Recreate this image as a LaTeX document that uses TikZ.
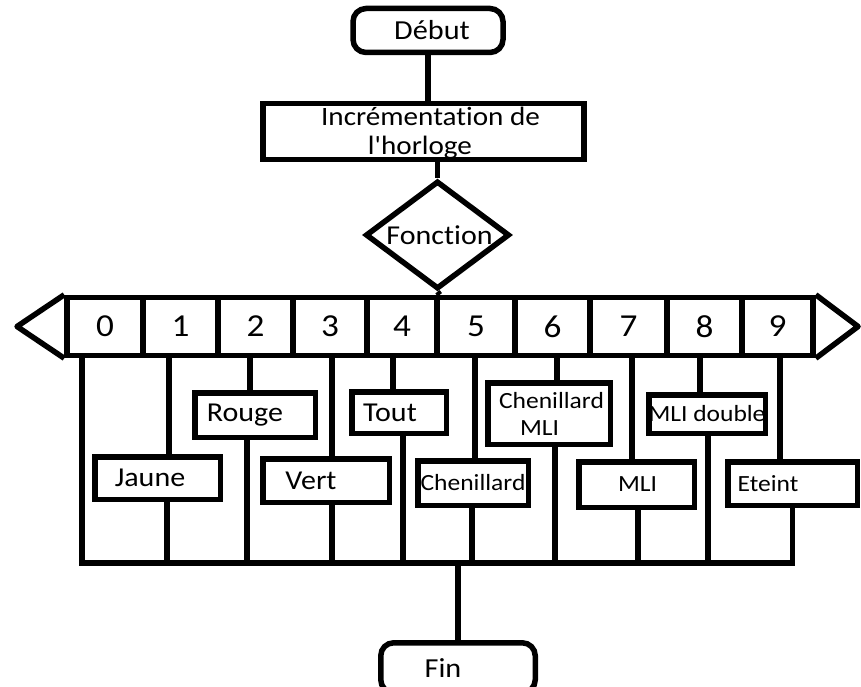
\documentclass[tikz,border=0pt]{standalone}
\usepackage{fontspec}
\setmainfont{Carlito}[FakeStretch=1.1, Ligatures={TeXOff,NoCommon}]
\usetikzlibrary{shapes.geometric}

% centre the text on a zero-width box, moved sideways by #1 pt
\newcommand\nudge[2]{\makebox[0pt]{\hspace*{#1pt}\hspace*{#1pt}#2}}

\begin{document}
\begin{tikzpicture}[x=1pt,y=-1pt,
  every node/.style={inner sep=0pt},
  wire/.style={line width=5.5pt},
  terminal/.style={draw, line width=5.5pt, rounded corners=13pt,
    font=\fontsize{27.5}{30}\selectfont},
  procbox/.style={draw, line width=5.5pt,
    font=\fontsize{26.5}{32}\selectfont},
  decision/.style={draw, line width=5.5pt, diamond,
    font=\fontsize{27.3}{30}\selectfont},
  cell/.style={draw, line width=5.5pt, minimum height=58pt,
    font=\fontsize{32}{36}\selectfont},
  modebox/.style={draw, line width=5.5pt, font=\fontsize{27.3}{29}\selectfont},
  smallbox/.style={modebox, font=\fontsize{23.2}{27}\selectfont},
]
\useasboundingbox (0,0) rectangle (861,687);

% start, clock step and the selector
\node[terminal, minimum width=150pt, minimum height=44pt] (debut) at (428,30.5) {\nudge{4}{Début}};
\node[procbox, minimum width=321pt, minimum height=56pt] (incr) at (423.5,131.5)
  {\raisebox{-8pt}[0pt][0pt]{\begin{tabular}{@{}c@{}}
     \hspace*{14pt}Incrémentation de\\[-3pt]\hspace*{-7pt}l'horloge\end{tabular}}};
\node[decision, minimum width=144pt, minimum height=108pt] (fn) at (437.5,235) {\nudge{2}{Fonction}};

% the ten-way selector bar
\foreach \i/\a/\b in {0/67/143, 1/143/218, 2/218/293, 3/293/367, 4/367/437,
                      5/437/515, 6/515/590, 7/590/667, 8/667/742, 9/742/813}
  \node[cell, minimum width={\b-\a}] (c\i) at ({(\a+\b)/2},326.5) {\i};
\coordinate (ltip) at (17,326.5);
\coordinate (rtip) at (858,326.5);
\draw[wire, line join=round] (c0.north west) -- (ltip) -- (c0.south west);
\draw[wire, line join=round] (c9.north east) -- (rtip) -- (c9.south east);

% one box per mode
\node[modebox, minimum width=125.5pt, minimum height=42.5pt] (jaune) at (157.5,478) {\nudge{-7.5}{Jaune}};
\node[modebox, minimum width=120.5pt, minimum height=44.5pt] (rouge) at (255,415) {\nudge{-10}{\raisebox{-3pt}{Rouge}}};
\node[modebox, minimum width=126.5pt, minimum height=43.5pt] (vert) at (326,480.5) {\nudge{-15}{Vert}};
\node[modebox, minimum width=94.5pt, minimum height=41.5pt] (tout) at (399,412.5) {\nudge{-9}{Tout}};
\node[smallbox, minimum width=110.5pt, minimum height=44.5pt] (chen) at (473,483) {\nudge{0}{Chenillard}};
\node[smallbox, align=center, minimum width=122.5pt, minimum height=61.5pt] (chenmli) at (549,413.5)
  {\hspace*{5pt}Chenillard\\\hspace*{-19pt}MLI};
\node[smallbox, minimum width=115.5pt, minimum height=45.5pt] (mli) at (636.5,484.5) {\nudge{1}{MLI}};
\node[smallbox, minimum width=116.5pt, minimum height=38.5pt] (mlid) at (707,414) {\nudge{0}{MLI double}};
\node[smallbox, minimum width=129.5pt, minimum height=43.5pt] (eteint) at (792.5,483.5) {\nudge{-24.5}{Eteint}};

% end
\node[terminal, minimum width=154.5pt, minimum height=50pt] (fin) at (458,667.75) {\nudge{-15}{Fin}};

% main flow
\draw[wire] (debut.south) -- (debut.south |- incr.north);
\draw[wire] (fn.north |- incr.south) -- (fn.north);
\draw[wire] (fn.south) -- (c4.north east);

% collecting rail, with branch 0 and branch 9 as its ends
\coordinate (railL) at (82,563);
\coordinate (railR) at (792.5,563);
\draw[wire] (railL |- c0.south) -- (railL) -- (railR) -- (eteint.south);
\draw[wire] ([xshift=-12.5]eteint.north) -- ([xshift=-12.5]eteint.north |- c9.south);

% branches 1 to 8: selector cell to box, box to rail
\foreach \n/\c/\t/\b in {jaune/c1/11.5/9.5, rouge/c2/-5/-8, vert/c3/6/6, tout/c4/-6/4,
                         chen/c5/2/-1, chenmli/c6/8/6, mli/c7/-4.5/1.5, mlid/c8/-7/1} {
  \draw[wire] ([xshift=\t]\n.north) -- ([xshift=\t]\n.north |- \c.south);
  \draw[wire] ([xshift=\b]\n.south) -- ([xshift=\b]\n.south |- railL);
}

\draw[wire] (fin.north |- railL) -- (fin.north);
\end{tikzpicture}
\end{document}
